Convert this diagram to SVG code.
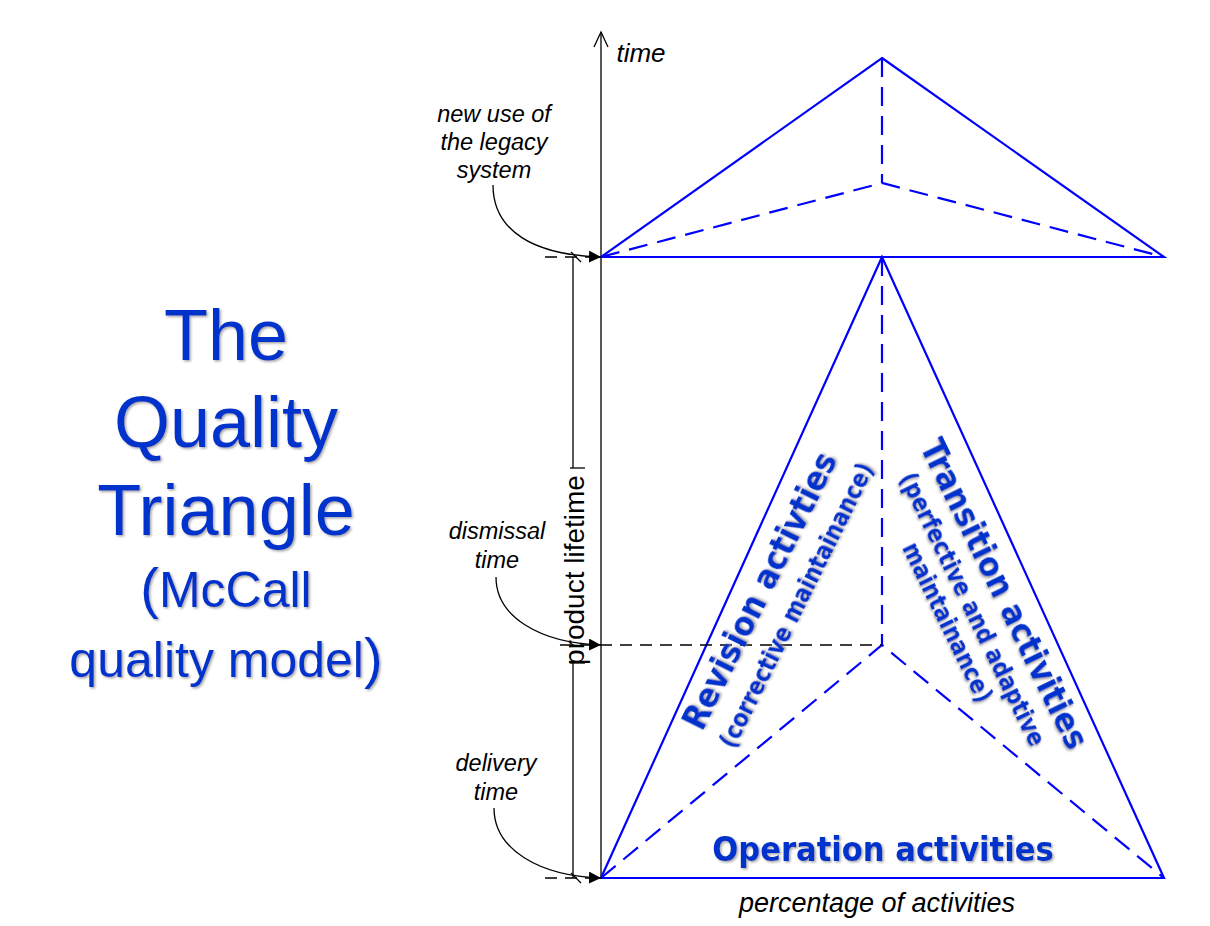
<svg xmlns="http://www.w3.org/2000/svg" width="1210" height="926" viewBox="0 0 1210 926">
<style>
.title{font-family:"Liberation Sans",Arial,sans-serif;fill:#0033cc;text-anchor:middle;filter:url(#sh)}
.lbl{font-family:"DejaVu Sans Condensed","DejaVu Sans",Verdana,sans-serif;font-stretch:condensed;font-weight:bold;fill:#0033cc;text-anchor:middle;filter:url(#sh)}
.ann{font-family:"Liberation Sans",Arial,sans-serif;font-style:italic;fill:#000;text-anchor:middle}
.blue{stroke:#0000ff;stroke-width:2.2;fill:none}
.bdash{stroke:#0000ff;stroke-width:2.2;fill:none;stroke-dasharray:19 10}
.kdash{stroke:#000;stroke-width:1.3;fill:none;stroke-dasharray:12 8}
.k{stroke:#000;stroke-width:1.3;fill:none}
</style>
<defs>
<filter id="sh" x="-10%" y="-10%" width="130%" height="130%">
<feDropShadow dx="1.5" dy="1.5" stdDeviation="0.8" flood-color="#808080" flood-opacity="0.7"/>
</filter>
<marker id="ah" markerWidth="12" markerHeight="12" refX="12" refY="6" orient="auto" markerUnits="userSpaceOnUse">
<path d="M0,0 L12,6 L0,12 Z" fill="#000"/>
</marker>
</defs>
<rect width="1210" height="926" fill="#fff"/>

<g id="title">
<text class="title" x="226" y="360" font-size="72">The</text>
<text class="title" x="226" y="447" font-size="72">Quality</text>
<text class="title" x="226" y="535" font-size="72">Triangle</text>
<text class="title" x="226" y="607" font-size="50"><tspan font-size="56">(</tspan>McCall</text>
<text class="title" x="226" y="677" font-size="50">quality model<tspan font-size="56">)</tspan></text>
</g>

<g id="time-axis">
<line class="k" x1="601" y1="32" x2="601" y2="878"/>
<polyline class="k" points="594,47 601,32 608,47"/>
<text class="ann" x="641" y="62" font-size="26">time</text>
</g>

<g id="top-triangle">
<polygon class="blue" points="882,58 1164,257 601,257"/>
<polyline class="bdash" points="882,58 882,183"/>
<polyline class="bdash" points="601,257 882,183 1164,257"/>
</g>

<g id="bottom-triangle">
<polygon class="blue" points="882,257 1164,878 601,878"/>
<polyline class="bdash" points="882,257 882,645"/>
<polyline class="bdash" points="601,878 882,645 1164,878"/>
</g>

<g id="product-lifetime">
<line class="k" x1="573" y1="257" x2="573" y2="468"/>
<line class="k" x1="573" y1="663" x2="573" y2="878"/>
<line class="k" x1="570" y1="468" x2="585" y2="468"/>
<line class="k" x1="570" y1="663" x2="585" y2="663"/>
<line class="k" x1="571" y1="252" x2="581" y2="262"/>
<line class="k" x1="571" y1="873" x2="581" y2="883"/>
<text class="ann" font-size="28" transform="translate(584,570) rotate(-90)" style="font-style:normal">product lifetime</text>
</g>

<g id="connectors">
<line class="kdash" x1="545" y1="257" x2="590" y2="257"/>
<line class="kdash" x1="560" y1="645" x2="882" y2="645"/>
<line class="kdash" x1="545" y1="878" x2="590" y2="878"/>
<path class="k" d="M493,185 C493,232 535,255 601,257" marker-end="url(#ah)"/>
<path class="k" d="M496,577 C496,617 540,643 601,645" marker-end="url(#ah)"/>
<path class="k" d="M494,808 C494,850 540,876 601,878" marker-end="url(#ah)"/>
</g>

<g id="ann-new-use">
<text class="ann" x="494" y="122" font-size="23.5">new use of</text>
<text class="ann" x="494" y="150" font-size="23.5">the legacy</text>
<text class="ann" x="494" y="178" font-size="23.5">system</text>
</g>
<g id="ann-dismissal">
<text class="ann" x="497" y="539" font-size="23.5">dismissal</text>
<text class="ann" x="497" y="568" font-size="23.5">time</text>
</g>
<g id="ann-delivery">
<text class="ann" x="496" y="771" font-size="23.5">delivery</text>
<text class="ann" x="496" y="800" font-size="23.5">time</text>
</g>

<g id="revision">
<text class="lbl" font-size="34" transform="translate(770,596) rotate(-63.5)">Revision activties</text>
<text class="lbl" font-size="24" transform="translate(804,609) rotate(-63.5)">(corrective maintainance)</text>
</g>
<g id="transition">
<text class="lbl" font-size="34" transform="translate(994,599) rotate(64)">Transition activities</text>
<text class="lbl" font-size="24" transform="translate(965,613) rotate(64)">(perfective and adaptive</text>
<text class="lbl" font-size="24" transform="translate(940,626) rotate(64)">maintainance)</text>
</g>
<g id="operation">
<text class="lbl" font-size="34" x="883" y="861">Operation activities</text>
</g>
<g id="x-label">
<text class="ann" x="877" y="912" font-size="27">percentage of activities</text>
</g>
</svg>
